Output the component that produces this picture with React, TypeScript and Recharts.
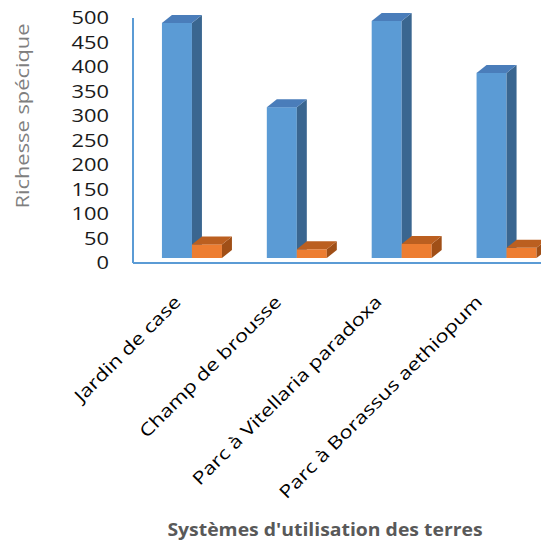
import { Bar, BarChart, Label, XAxis, YAxis } from "recharts";

const categories = [
    "Jardin de case",
    "Champ de brousse",
    "Parc à Vitellaria paradoxa",
    "Parc à Borassus aethiopum",
];
const especes = [490, 318, 494, 388];
const familles = [38, 28, 39, 31];
const yTicks = [0, 50, 100, 150, 200, 250, 300, 350, 400, 450, 500];

const data = categories.map((name, i) => ({
    name,
    especes: especes[i],
    familles: familles[i],
}));

const FONT = "'Open Sans', sans-serif";
const AXIS_BLUE = "#5b9bd5";
// fake 3D depth (Excel style)
const DX = 10;
const DY = 8;
const LIFT = 5;

const make3DBar = (front: string, top: string, side: string) => (props: any) => {
    const { x, y, width, height } = props;
    if (x == null || y == null) return <g />;
    const base = y + height - LIFT;
    const right = x + width;
    return (
        <g>
            <rect x={x} y={y} width={width} height={Math.max(0, base - y)} fill={front} />
            <polygon
                points={`${right},${y} ${right + DX},${y - DY} ${right + DX},${base - DY} ${right},${base}`}
                fill={side}
            />
            <polygon
                points={`${x},${y} ${x + DX},${y - DY} ${right + DX},${y - DY} ${right},${y}`}
                fill={top}
            />
        </g>
    );
};

const blueBar = make3DBar("#5b9bd5", "#4a7dba", "#3a6690");
const orangeBar = make3DBar("#ed7d31", "#bb5f20", "#a04f17");

const YTick = (props: any) => {
    const { x, y, payload } = props;
    return (
        <text
            transform={`translate(${x},${y}) scale(1.25,1)`}
            textAnchor="end"
            dy="0.36em"
            fontSize={17.5}
            fontFamily={FONT}
            fill="#1a1a1a"
        >
            {payload.value}
        </text>
    );
};

const XTick = (props: any) => {
    const { x, y, payload, index } = props;
    // labels sit a bit left of the bars, spacing shrinks slightly (perspective)
    const ax = x - 10 - index * 4.4;
    const ay = y + 40;
    return (
        <text
            transform={`translate(${ax},${ay}) rotate(-45) scale(1.25,1)`}
            textAnchor="end"
            fontSize={17.5}
            fontFamily={FONT}
            fill="#000"
        >
            {payload.value}
        </text>
    );
};

export default function App() {
    return (
        <div
            style={{
                position: "fixed",
                left: 0,
                top: 0,
                width: 541,
                height: 544,
                overflow: "hidden",
                background: "#fff",
            }}
        >
            <BarChart
                width={580}
                height={544}
                data={data}
                margin={{ top: 18, right: 21, bottom: 0, left: 0 }}
                barCategoryGap="21.4%"
                barGap={0}
            >
                <XAxis
                    dataKey="name"
                    height={281}
                    interval={0}
                    padding={{ left: 6.5, right: 0 }}
                    axisLine={{ stroke: AXIS_BLUE, strokeWidth: 2 }}
                    tickLine={false}
                    tickSize={0}
                    tickMargin={0}
                    tick={<XTick />}
                >
                    <Label
                        content={() => (
                            <text
                                transform="translate(325,536) scale(1.09,1)"
                                textAnchor="middle"
                                fontSize={17.8}
                                fontWeight="bold"
                                fontFamily={FONT}
                                fill="#595959"
                            >
                                Systèmes d'utilisation des terres
                            </text>
                        )}
                    />
                </XAxis>
                <YAxis
                    width={133}
                    domain={[0, 500]}
                    ticks={yTicks}
                    interval={0}
                    axisLine={{ stroke: AXIS_BLUE, strokeWidth: 2 }}
                    tickLine={false}
                    tickSize={0}
                    tickMargin={24}
                    tick={<YTick />}
                >
                    <Label
                        content={() => (
                            <text
                                transform="translate(29,116) rotate(-90) scale(1.25,1)"
                                textAnchor="middle"
                                fontSize={17.5}
                                fontFamily={FONT}
                                fill="#7f7f7f"
                            >
                                Richesse spécique
                            </text>
                        )}
                    />
                </YAxis>
                <Bar dataKey="especes" shape={blueBar} isAnimationActive={false} />
                <Bar dataKey="familles" shape={orangeBar} isAnimationActive={false} />
            </BarChart>
        </div>
    );
}
